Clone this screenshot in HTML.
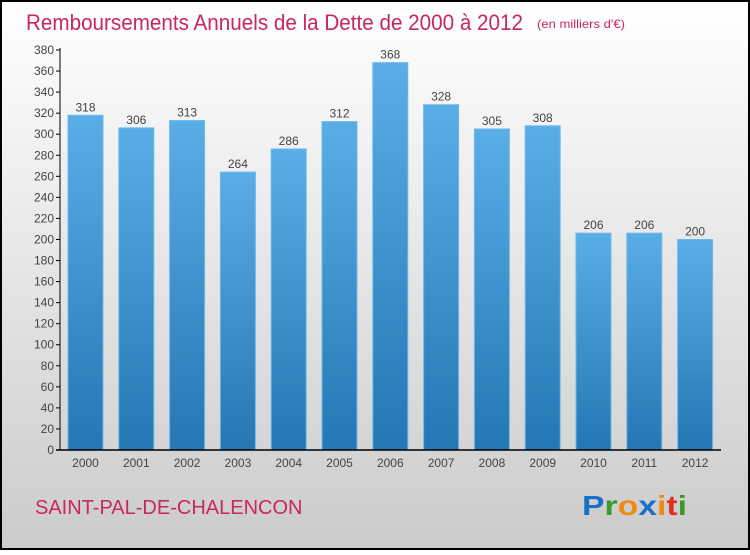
<!DOCTYPE html>
<html><head><meta charset="utf-8"><style>
body{margin:0;width:750px;height:550px;overflow:hidden;font-family:"Liberation Sans",sans-serif}
</style></head><body>
<svg width="750" height="550" xmlns="http://www.w3.org/2000/svg">
<defs>
<linearGradient id="bg" x1="0" y1="0" x2="0" y2="1"><stop offset="0" stop-color="#ffffff"/><stop offset="1" stop-color="#cbcbcb"/></linearGradient>
<linearGradient id="bar" x1="0" y1="0" x2="0" y2="1"><stop offset="0" stop-color="#5aade6"/><stop offset="1" stop-color="#2577b3"/></linearGradient>
</defs>
<rect x="1" y="1" width="748" height="548" fill="url(#bg)" stroke="#000" stroke-width="2"/>
<text x="26" y="30" font-size="22" fill="#c8285a" textLength="497" lengthAdjust="spacingAndGlyphs">Remboursements Annuels de la Dette de 2000 à 2012</text>
<text x="537" y="28" font-size="12" fill="#c8285a" textLength="88" lengthAdjust="spacingAndGlyphs">(en milliers d'€)</text>
<g id="plot"></g>
<text x="35" y="514" font-size="20" fill="#c8285a">SAINT-PAL-DE-CHALENCON</text>
<text x="582" y="515" font-size="28" font-weight="bold" textLength="105" lengthAdjust="spacingAndGlyphs"><tspan fill="#1a6fc9">P</tspan><tspan fill="#3a9a2a">r</tspan><tspan fill="#f08a10">o</tspan><tspan fill="#1a6fc9">x</tspan><tspan fill="#f08a10">i</tspan><tspan fill="#e03020">t</tspan><tspan fill="#3a9a2a">i</tspan></text>
</svg>
<script>
const years=["2000","2001","2002","2003","2004","2005","2006","2007","2008","2009","2010","2011","2012"];
const values=[318,306,313,264,286,312,368,328,305,308,206,206,200];
const yTicks=[0,20,40,60,80,100,120,140,160,180,200,220,240,260,280,300,320,340,360,380];
const NS="http://www.w3.org/2000/svg";
const g=document.getElementById('plot');
const y=v=>450-v*400/380;
const x=i=>85.5+i*50.8;
function mk(t,a,txt){const e=document.createElementNS(NS,t);for(const k in a)e.setAttribute(k,a[k]);if(txt!==undefined)e.textContent=txt;g.appendChild(e);return e;}
yTicks.forEach(v=>{
 const l=mk('line',{x1:56,x2:60,y1:y(v),y2:y(v),stroke:'#000'});
 
 
 const t=mk('text',{x:54,y:y(v)+4,'font-size':12,fill:'#444','text-anchor':'end'},v);
 
 
});
values.forEach((v,i)=>{
 const r=mk('rect',{x:x(i)-17.5,y:y(v),width:35,height:450-y(v),fill:'url(#bar)',stroke:'#6bbaf0','stroke-width':1});
 
 
 const t=mk('text',{x:x(i),y:y(v)-4,'font-size':12,fill:'#444','text-anchor':'middle'},v);
 
 
 const xl=mk('text',{x:x(i),y:467,'font-size':12,fill:'#444','text-anchor':'middle'},years[i]);
 
 
});
const ya=mk('line',{x1:60,x2:60,y1:48,y2:450,stroke:'#000'});


const xa=mk('line',{x1:56,x2:721,y1:450,y2:450,stroke:'#000','stroke-width':1.5});


</script>
</body></html>
